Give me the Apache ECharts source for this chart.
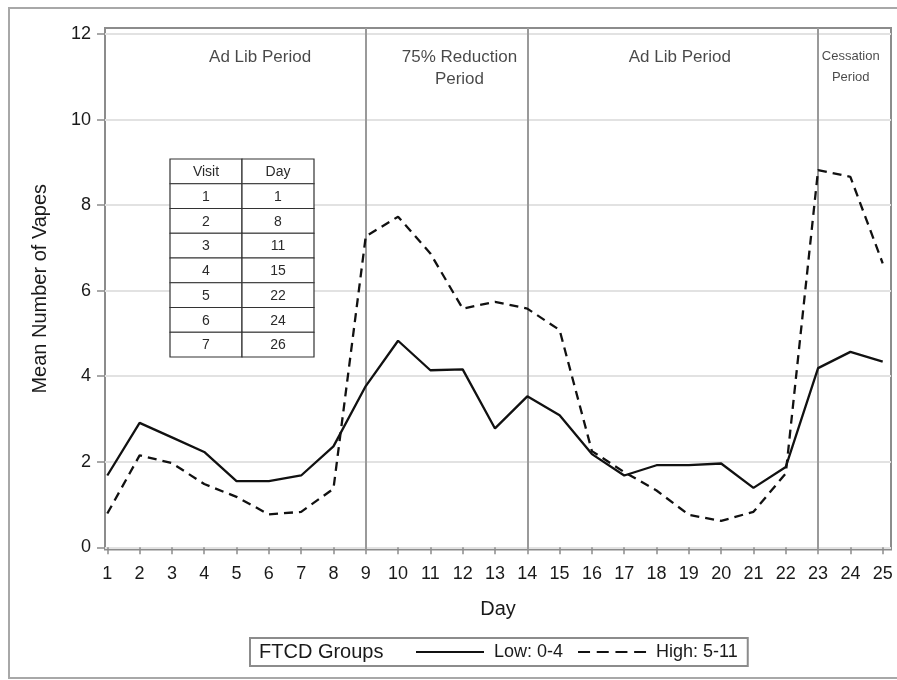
<!DOCTYPE html>
<html>
<head>
<meta charset="utf-8">
<title>Mean Number of Vapes by Day</title>
<script src="https://cdn.jsdelivr.net/npm/echarts@6/dist/echarts.min.js"></script>
<style>
  html, body { margin: 0; padding: 0; background: #fff; }
  #chart { width: 897px; height: 680px; }
</style>
</head>
<body>
<div id="chart"></div>
<script>
// Study days on the x axis
const days = [1, 2, 3, 4, 5, 6, 7, 8, 9, 10, 11, 12, 13, 14, 15, 16, 17, 18, 19, 20, 21, 22, 23, 24, 25];
// Mean number of vapes, FTCD low group (0-4)
const lowGroup = [1.68, 2.91, 2.57, 2.23, 1.55, 1.55, 1.68, 2.36, 3.77, 4.83, 4.14, 4.16, 2.78,
                  3.53, 3.09, 2.18, 1.68, 1.92, 1.92, 1.96, 1.39, 1.88, 4.19, 4.57, 4.34];
// Mean number of vapes, FTCD high group (5-11)
const highGroup = [0.79, 2.15, 1.97, 1.48, 1.18, 0.77, 0.83, 1.37, 7.27, 7.73, 6.87, 5.58, 5.74,
                   5.58, 5.08, 2.25, 1.76, 1.33, 0.76, 0.62, 0.83, 1.73, 8.82, 8.66, 6.64];
const yTicks = [0, 2, 4, 6, 8, 10, 12];

// Period boundaries (vertical reference lines) and period captions
const periodBoundaries = [9, 14, 23];
const periodNames = ['Ad Lib Period', '75% Reduction\nPeriod', 'Ad Lib Period', 'Cessation\nPeriod'];
const periodCaptionDays = [5.73, 11.9, 18.72, 24.01];
const periodCaptionLevel = 11.72;

// Visit schedule table
const visits = [1, 2, 3, 4, 5, 6, 7];
const visitDays = [1, 8, 11, 15, 22, 24, 26];

const seriesNames = ['Low: 0-4', 'High: 5-11'];
const FONT = '"Liberation Sans", Arial, Helvetica, sans-serif';
const TEXT = '#1a1a1a';
const FRAME = '#8c8c8c';

// Visit/Day table drawn as a graphic group, kept above the grid lines
function buildTable() {
  const x0 = 170, y0 = 159, colW = 72, rowH = 24.75;
  const rows = [['Visit', 'Day']].concat(visits.map((v, i) => [String(v), String(visitDays[i])]));
  const children = [];
  rows.forEach((r, ri) => {
    r.forEach((txt, ci) => {
      children.push({
        type: 'rect', z: 100,
        shape: { x: x0 + ci * colW, y: y0 + ri * rowH, width: colW, height: rowH },
        style: { fill: '#fff', stroke: '#333', lineWidth: 1.2 }
      });
      children.push({
        type: 'text', z: 101,
        x: x0 + ci * colW + colW / 2,
        y: y0 + ri * rowH + rowH / 2 + 1,
        style: { text: txt, fontSize: 14, fontFamily: FONT, fill: '#2a2a2a', align: 'center', verticalAlign: 'middle' }
      });
    });
  });
  return { type: 'group', z: 100, children: children };
}

const chart = echarts.init(document.getElementById('chart'), null, { renderer: 'canvas' });

const option = {
  backgroundColor: '#fff',
  animation: false,
  textStyle: { fontFamily: FONT },
  grid: {
    left: 105, right: 6, top: 28, bottom: 130.5,
    show: true, borderColor: FRAME, borderWidth: 2, backgroundColor: 'transparent'
  },
  xAxis: {
    type: 'value',
    min: 0.929, max: 25.257,
    name: 'Day', nameLocation: 'middle', nameGap: 50,
    nameTextStyle: { fontSize: 20, color: TEXT, fontFamily: FONT },
    axisLine: { show: false },
    axisTick: { show: true, length: 7, customValues: days, lineStyle: { color: FRAME, width: 1.5 } },
    axisLabel: { customValues: days, fontSize: 18, color: TEXT, margin: 16, fontFamily: FONT },
    splitLine: { show: false }
  },
  yAxis: {
    type: 'value',
    min: -0.05, max: 12.14,
    name: 'Mean Number of Vapes', nameLocation: 'middle', nameGap: 55,
    nameTextStyle: { fontSize: 20, color: TEXT, fontFamily: FONT },
    axisLine: { show: false },
    axisTick: { show: true, length: 8, customValues: yTicks, lineStyle: { color: FRAME, width: 1.5 } },
    axisLabel: { customValues: yTicks, fontSize: 18, color: TEXT, margin: 14, fontFamily: FONT },
    splitLine: { show: true, lineStyle: { color: '#e2e2e2', width: 2 } }
  },
  legend: {
    left: 250, top: 638,
    data: [
      { name: seriesNames[0] },
      { name: seriesNames[1], lineStyle: { type: [12, 6.7] } }
    ],
    itemWidth: 68, itemHeight: 14, itemGap: 14,
    itemStyle: { opacity: 0 },
    padding: [5, 10, 5, 165],
    borderColor: FRAME, borderWidth: 2,
    formatter: n => ' ' + n,
    textStyle: { fontSize: 18, color: TEXT, fontFamily: FONT }
  },
  graphic: [
    {
      type: 'rect', z: -1, silent: true,
      shape: { x: 9, y: 8, width: 900, height: 670 },
      style: { fill: 'none', stroke: '#a8a8a8', lineWidth: 2 }
    },
    {
      type: 'text', left: 259, top: 642,
      style: { text: 'FTCD Groups', fontSize: 20, fontFamily: FONT, fill: TEXT }
    },
    buildTable()
  ],
  series: [
    {
      name: seriesNames[0],
      type: 'line',
      data: days.map((d, i) => [d, lowGroup[i]]),
      symbol: 'none',
      lineStyle: { color: '#111', width: 2.3, type: 'solid' },
      itemStyle: { color: '#111' },
      z: 5,
      markLine: {
        silent: true,
        symbol: ['none', 'none'],
        label: { show: false },
        lineStyle: { color: '#9a9a9a', width: 2, type: 'solid' },
        data: periodBoundaries.map(b => ({ xAxis: b })),
        z: 3
      }
    },
    {
      name: seriesNames[1],
      type: 'line',
      data: days.map((d, i) => [d, highGroup[i]]),
      symbol: 'none',
      lineStyle: { color: '#111', width: 2.3, type: [9, 6] },
      itemStyle: { color: '#111' },
      z: 5
    },
    {
      name: 'periods',
      type: 'scatter',
      symbolSize: 0,
      silent: true,
      data: periodCaptionDays.map((d, i) => {
        const small = periodNames[i].indexOf('Cessation') === 0;
        return {
          value: [d, periodCaptionLevel],
          label: small ? { fontSize: 13, lineHeight: 21 } : { fontSize: 17, lineHeight: 22 }
        };
      }),
      label: {
        show: true,
        position: 'bottom',
        distance: 0,
        align: 'center',
        verticalAlign: 'top',
        color: TEXT,
        fontFamily: FONT,
        formatter: p => periodNames[p.dataIndex]
      }
    }
  ]
};

chart.setOption(option);
</script>
</body>
</html>
